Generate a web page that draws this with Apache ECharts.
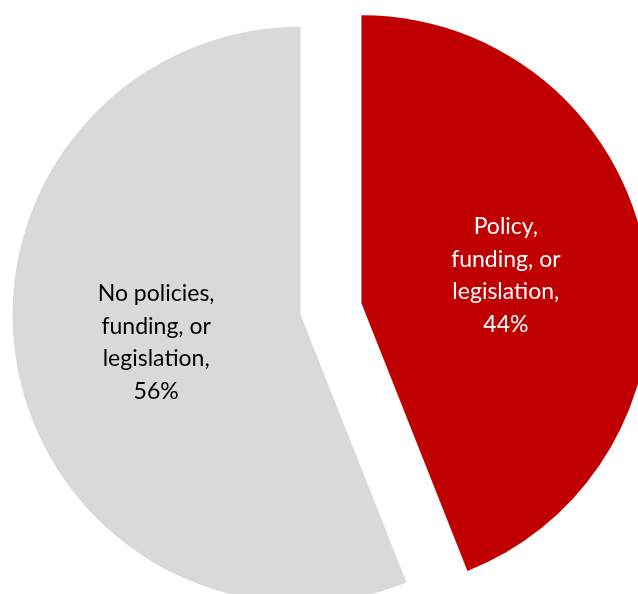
<!DOCTYPE html>
<html>
<head>
<meta charset="utf-8">
<script src="https://cdn.jsdelivr.net/npm/echarts@6/dist/echarts.min.js"></script>
<style>html,body{margin:0;padding:0;background:#fff}#c{width:638px;height:594px}</style>
</head>
<body>
<div id="c"></div>
<script>
var categories = ['Policy,\nfunding, or\nlegislation,', 'No policies,\nfunding, or\nlegislation,'];
var values = [44, 56];
var colors = ['#C00000', '#D9D9D9'];
var labelColors = ['#ffffff', '#000000'];
var labelOffsets = [[-19, 6], [-15, 2]];

var chart = echarts.init(document.getElementById('c'), null, {renderer: 'canvas'});
chart.setOption({
  animation: false,
  backgroundColor: '#ffffff',
  series: [{
    type: 'pie',
    center: [331, 309],
    radius: [0, 288],
    startAngle: 90,
    clockwise: true,
    selectedMode: 'multiple',
    selectedOffset: 31,
    emphasis: {disabled: true},
    label: {
      position: 'inside',
      fontFamily: 'Lato',
      fontSize: 23,
      lineHeight: 32.5,
      align: 'center',
      formatter: function (p) { return p.name + '\n' + p.value + '%'; }
    },
    labelLine: {show: false},
    itemStyle: {borderWidth: 0},
    data: categories.map(function (c, i) {
      return {
        name: c,
        value: values[i],
        selected: true,
        itemStyle: {color: colors[i]},
        label: {color: labelColors[i], offset: labelOffsets[i]}
      };
    })
  }]
});
</script>
</body>
</html>
